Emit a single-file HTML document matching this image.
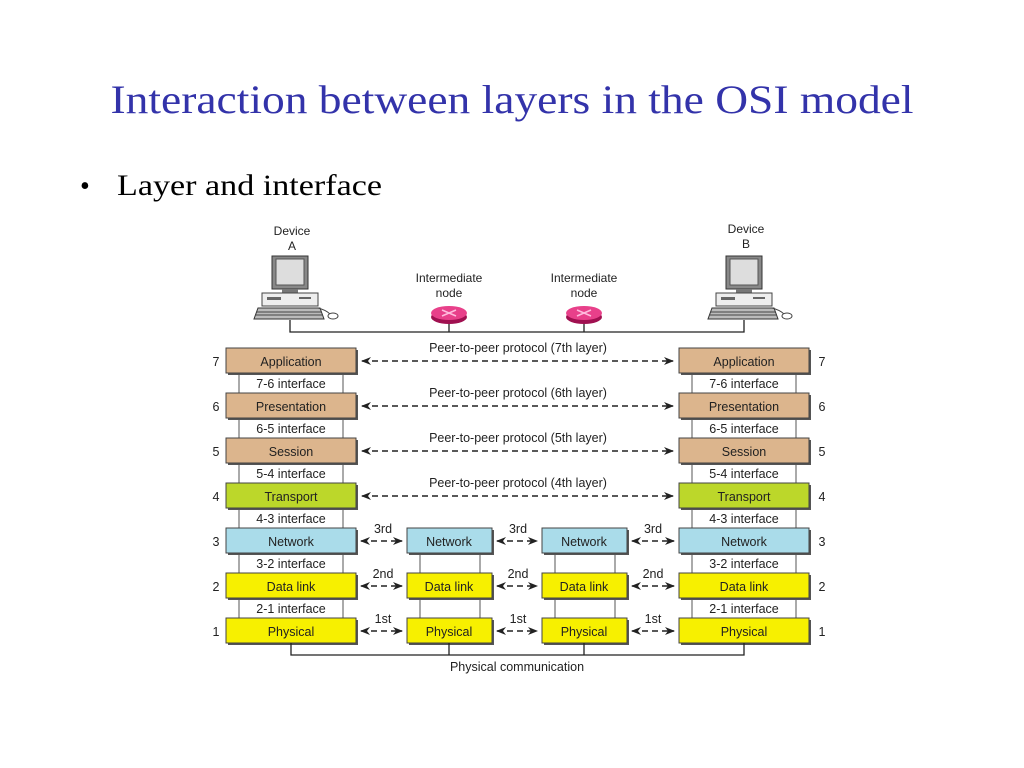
<!DOCTYPE html>
<html><head><meta charset="utf-8"><style>
html,body{margin:0;padding:0;background:#fff;}
svg{display:block;}
</style></head><body>
<svg width="1024" height="768" viewBox="0 0 1024 768" xmlns="http://www.w3.org/2000/svg">
<defs>
<marker id="ah" markerWidth="10" markerHeight="8" refX="9" refY="4" orient="auto-start-reverse" markerUnits="userSpaceOnUse">
<path d="M0,0 L10,4 L0,8 L3,4 Z" fill="#222"/>
</marker>
<g id="pc">
<rect x="18" y="0" width="36" height="33" fill="#888" stroke="#333" stroke-width="1"/>
<rect x="22" y="3" width="28" height="26" fill="#ddd" stroke="#555"/>
<rect x="28" y="33" width="16" height="4" fill="#777"/>
<rect x="8" y="37" width="56" height="13" fill="#eee" stroke="#444"/>
<rect x="13" y="41" width="14" height="3" fill="#666"/>
<rect x="45" y="41" width="12" height="2" fill="#666"/>
<path d="M4,52 L66,52 L70,63 L0,63 Z" fill="#bbb" stroke="#333"/>
<path d="M3,56 L67,56 M2,59 L68,59" stroke="#444" stroke-width="1"/>
<path d="M64,52 Q72,54 76,58" fill="none" stroke="#444"/>
<ellipse cx="79" cy="60" rx="5" ry="3" fill="#fff" stroke="#444"/>
</g>
<g id="router">
<ellipse cx="0" cy="4" rx="18" ry="7" fill="#a01050"/>
<ellipse cx="0" cy="0" rx="18" ry="7" fill="#e8408a"/>
<path d="M-7,-3 L7,3 M-7,3 L7,-3" stroke="#fbd" stroke-width="1.5"/>
</g>
</defs>

<text x="512" y="113" text-anchor="middle" font-family="Liberation Serif, serif" font-size="40" fill="#3333aa" textLength="803" lengthAdjust="spacingAndGlyphs">Interaction between layers in the OSI model</text>
<text x="80" y="195" font-family="Liberation Serif, serif" font-size="28" fill="#000">•</text>
<text x="117" y="195" font-family="Liberation Serif, serif" font-size="30" fill="#000" textLength="265" lengthAdjust="spacingAndGlyphs">Layer and interface</text>

<g font-family="Liberation Sans, sans-serif" font-size="12" fill="#222" text-anchor="middle">
<text x="292" y="235">Device</text><text x="292" y="250">A</text>
<text x="746" y="233">Device</text><text x="746" y="248">B</text>
<text x="449" y="282">Intermediate</text><text x="449" y="297">node</text>
<text x="584" y="282">Intermediate</text><text x="584" y="297">node</text>
</g>
<use href="#pc" x="254" y="256"/>
<use href="#pc" x="708" y="256"/>
<path d="M290,320 V332 H744 V320 M449,320 V332 M584,320 V332" fill="none" stroke="#222" stroke-width="1.3"/>
<use href="#router" x="449" y="313"/>
<use href="#router" x="584" y="313"/>

<!-- stacks -->
<g font-family="Liberation Sans, sans-serif" font-size="12.5" fill="#222" text-anchor="middle">
<!-- interface columns -->
<rect x="239" y="373" width="104" height="245" fill="#fff" stroke="#555"/>
<rect x="692" y="373" width="104" height="245" fill="#fff" stroke="#555"/>
<rect x="420" y="553" width="60" height="65" fill="#fff" stroke="#555"/>
<rect x="555" y="553" width="60" height="65" fill="#fff" stroke="#555"/>

<g id="interfacesL">
<text x="291" y="388">7-6 interface</text>
<text x="291" y="433">6-5 interface</text>
<text x="291" y="478">5-4 interface</text>
<text x="291" y="523">4-3 interface</text>
<text x="291" y="568">3-2 interface</text>
<text x="291" y="613">2-1 interface</text>
</g>
<g>
<text x="744" y="388">7-6 interface</text>
<text x="744" y="433">6-5 interface</text>
<text x="744" y="478">5-4 interface</text>
<text x="744" y="523">4-3 interface</text>
<text x="744" y="568">3-2 interface</text>
<text x="744" y="613">2-1 interface</text>
</g>

<!-- layer boxes with shadow -->
<g stroke="#444" stroke-width="1">
<rect x="228" y="350" width="130" height="25" fill="#555" stroke="none"/>
<rect x="226" y="348" width="130" height="25" fill="#dcb58d"/>
<rect x="228" y="395" width="130" height="25" fill="#555" stroke="none"/>
<rect x="226" y="393" width="130" height="25" fill="#dcb58d"/>
<rect x="228" y="440" width="130" height="25" fill="#555" stroke="none"/>
<rect x="226" y="438" width="130" height="25" fill="#dcb58d"/>
<rect x="228" y="485" width="130" height="25" fill="#555" stroke="none"/>
<rect x="226" y="483" width="130" height="25" fill="#bcd72a"/>
<rect x="228" y="530" width="130" height="25" fill="#555" stroke="none"/>
<rect x="226" y="528" width="130" height="25" fill="#aadcea"/>
<rect x="228" y="575" width="130" height="25" fill="#555" stroke="none"/>
<rect x="226" y="573" width="130" height="25" fill="#f7f000"/>
<rect x="228" y="620" width="130" height="25" fill="#555" stroke="none"/>
<rect x="226" y="618" width="130" height="25" fill="#f7f000"/>

<rect x="681" y="350" width="130" height="25" fill="#555" stroke="none"/>
<rect x="679" y="348" width="130" height="25" fill="#dcb58d"/>
<rect x="681" y="395" width="130" height="25" fill="#555" stroke="none"/>
<rect x="679" y="393" width="130" height="25" fill="#dcb58d"/>
<rect x="681" y="440" width="130" height="25" fill="#555" stroke="none"/>
<rect x="679" y="438" width="130" height="25" fill="#dcb58d"/>
<rect x="681" y="485" width="130" height="25" fill="#555" stroke="none"/>
<rect x="679" y="483" width="130" height="25" fill="#bcd72a"/>
<rect x="681" y="530" width="130" height="25" fill="#555" stroke="none"/>
<rect x="679" y="528" width="130" height="25" fill="#aadcea"/>
<rect x="681" y="575" width="130" height="25" fill="#555" stroke="none"/>
<rect x="679" y="573" width="130" height="25" fill="#f7f000"/>
<rect x="681" y="620" width="130" height="25" fill="#555" stroke="none"/>
<rect x="679" y="618" width="130" height="25" fill="#f7f000"/>

<rect x="409" y="530" width="85" height="25" fill="#555" stroke="none"/>
<rect x="407" y="528" width="85" height="25" fill="#aadcea"/>
<rect x="409" y="575" width="85" height="25" fill="#555" stroke="none"/>
<rect x="407" y="573" width="85" height="25" fill="#f7f000"/>
<rect x="409" y="620" width="85" height="25" fill="#555" stroke="none"/>
<rect x="407" y="618" width="85" height="25" fill="#f7f000"/>
<rect x="544" y="530" width="85" height="25" fill="#555" stroke="none"/>
<rect x="542" y="528" width="85" height="25" fill="#aadcea"/>
<rect x="544" y="575" width="85" height="25" fill="#555" stroke="none"/>
<rect x="542" y="573" width="85" height="25" fill="#f7f000"/>
<rect x="544" y="620" width="85" height="25" fill="#555" stroke="none"/>
<rect x="542" y="618" width="85" height="25" fill="#f7f000"/>
</g>

<text x="291" y="366">Application</text>
<text x="291" y="411">Presentation</text>
<text x="291" y="456">Session</text>
<text x="291" y="501">Transport</text>
<text x="291" y="546">Network</text>
<text x="291" y="591">Data link</text>
<text x="291" y="636">Physical</text>
<text x="744" y="366">Application</text>
<text x="744" y="411">Presentation</text>
<text x="744" y="456">Session</text>
<text x="744" y="501">Transport</text>
<text x="744" y="546">Network</text>
<text x="744" y="591">Data link</text>
<text x="744" y="636">Physical</text>
<text x="449" y="546">Network</text>
<text x="449" y="591">Data link</text>
<text x="449" y="636">Physical</text>
<text x="584" y="546">Network</text>
<text x="584" y="591">Data link</text>
<text x="584" y="636">Physical</text>

<text x="216" y="366">7</text><text x="216" y="411">6</text><text x="216" y="456">5</text><text x="216" y="501">4</text><text x="216" y="546">3</text><text x="216" y="591">2</text><text x="216" y="636">1</text>
<text x="822" y="366">7</text><text x="822" y="411">6</text><text x="822" y="456">5</text><text x="822" y="501">4</text><text x="822" y="546">3</text><text x="822" y="591">2</text><text x="822" y="636">1</text>

<text x="518" y="352">Peer-to-peer protocol (7th layer)</text>
<text x="518" y="397">Peer-to-peer protocol (6th layer)</text>
<text x="518" y="442">Peer-to-peer protocol (5th layer)</text>
<text x="518" y="487">Peer-to-peer protocol (4th layer)</text>

<text x="383" y="533">3rd</text><text x="518" y="533">3rd</text><text x="653" y="533">3rd</text>
<text x="383" y="578">2nd</text><text x="518" y="578">2nd</text><text x="653" y="578">2nd</text>
<text x="383" y="623">1st</text><text x="518" y="623">1st</text><text x="653" y="623">1st</text>
<text x="517" y="671">Physical communication</text>
</g>

<g stroke="#222" stroke-width="1.4" stroke-dasharray="6,4" fill="none" marker-start="url(#ah)" marker-end="url(#ah)">
<line x1="362" y1="361" x2="673" y2="361"/>
<line x1="362" y1="406" x2="673" y2="406"/>
<line x1="362" y1="451" x2="673" y2="451"/>
<line x1="362" y1="496" x2="673" y2="496"/>
<line x1="361" y1="541" x2="402" y2="541"/>
<line x1="497" y1="541" x2="537" y2="541"/>
<line x1="632" y1="541" x2="674" y2="541"/>
<line x1="361" y1="586" x2="402" y2="586"/>
<line x1="497" y1="586" x2="537" y2="586"/>
<line x1="632" y1="586" x2="674" y2="586"/>
<line x1="361" y1="631" x2="402" y2="631"/>
<line x1="497" y1="631" x2="537" y2="631"/>
<line x1="632" y1="631" x2="674" y2="631"/>
</g>
<path d="M291,643 V655 H744 V643 M449,643 V655 M584,643 V655" fill="none" stroke="#222" stroke-width="1.3"/>
</svg>
</body></html>
